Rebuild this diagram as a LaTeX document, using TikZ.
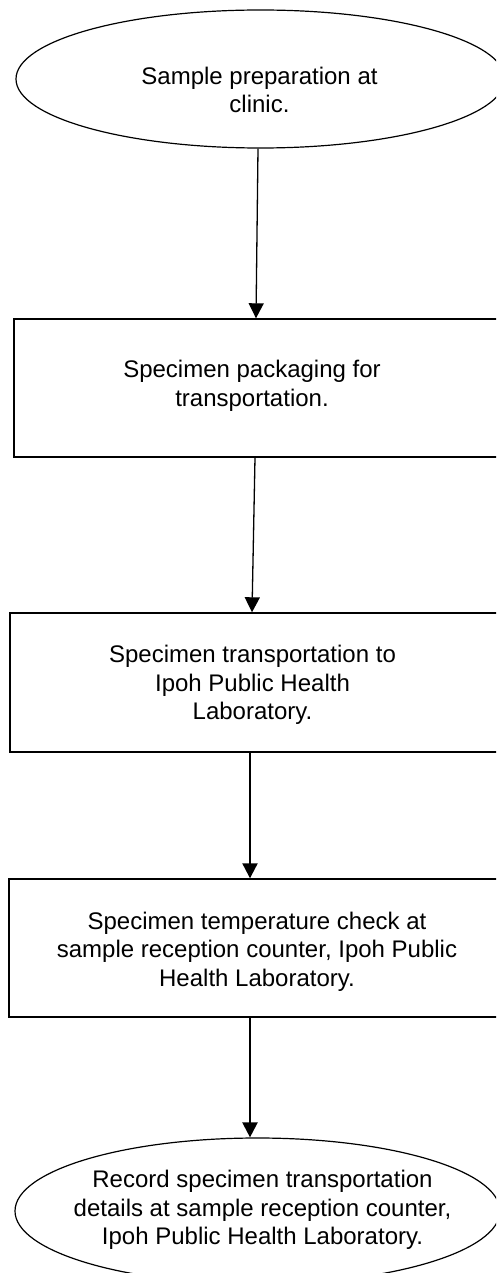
\documentclass[tikz,border=0pt]{standalone}
\usepackage{fontspec}
\setmainfont{Liberation Sans}
\usetikzlibrary{shapes.geometric,arrows.meta}
\begin{document}
\begin{tikzpicture}[x=1pt,y=-1pt,
  oval/.style={ellipse,draw,line width=1.2pt,inner sep=0pt},
  stepbox/.style={rectangle,draw,line width=1.4pt,inner sep=0pt},
  lbl/.style={align=center,font=\fontsize{24}{28.5}\selectfont,inner sep=0pt},
  conn/.style={-{Triangle[width=15pt,length=15pt]},line width=1.3pt},
  heavyconn/.style={-{Triangle[width=15pt,length=15pt]},line width=2.2pt}]
\useasboundingbox (0,0) rectangle (496,1273);
\clip (0,0) rectangle (496,1273);
\node[oval,minimum width=489pt,minimum height=138pt] (e1) at (260.5,79) {};
\node[lbl] (t1) at (259.5,90) {Sample preparation at\\clinic.};
\node[stepbox,minimum width=486pt,minimum height=138pt] (b1) at (257,388) {};
\node[lbl] (t2) at (252,386) {Specimen packaging for\\transportation.};
\node[stepbox,minimum width=490pt,minimum height=139pt] (b2) at (255,682.5) {};
\node[lbl] (t3) at (252.5,685) {Specimen transportation to\\Ipoh Public Health\\Laboratory.};
\node[stepbox,minimum width=491pt,minimum height=138pt] (b3) at (254.5,948) {};
\node[lbl] (t4) at (257,951.5) {Specimen temperature check at\\sample reception counter, Ipoh Public\\Health Laboratory.};
\node[oval,minimum width=485pt,minimum height=146pt] (e2) at (257.5,1211) {};
\node[lbl] (t5) at (262.5,1210) {Record specimen transportation\\details at sample reception counter,\\Ipoh Public Health Laboratory.};
\draw[conn] ([xshift=-2.5pt]e1.south) -- ([xshift=-1pt]b1.north);
\draw[conn] ([xshift=-2pt]b1.south) -- ([xshift=-3pt]b2.north);
\draw[heavyconn] ([xshift=-5pt]b2.south) -- ([xshift=-4.5pt]b3.north);
\draw[heavyconn] ([xshift=-4.5pt]b3.south) -- ([xshift=-7.5pt]e2.north);
\end{tikzpicture}
\end{document}
